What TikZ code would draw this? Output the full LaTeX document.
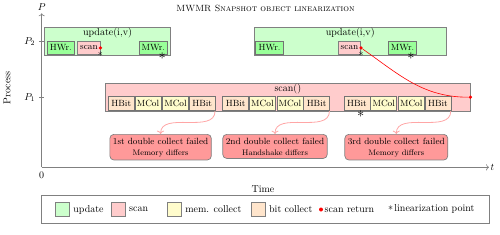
\documentclass[tikz,border=0pt]{standalone}
\usetikzlibrary{arrows.meta,positioning}

\begin{document}
\begin{tikzpicture}[
  x=1pt, y=-1pt, >=To,
  axis/.style={draw=gray, line width=0.6pt},
  outer/.style={draw=gray, line width=0.7pt, minimum height=27.7pt, inner sep=0pt},
  updbox/.style={outer, fill=green!20},
  scanbig/.style={outer, fill=red!20},
  ttl/.style={anchor=north, inner sep=1pt},
  inbox/.style={draw=black!55, line width=0.7pt, inner sep=0pt, font=\small},
  wrbox/.style={inbox, fill=green!40, minimum height=12.3pt},
  scansm/.style={inbox, draw=gray, fill=red!20, minimum height=12.3pt, minimum width=22.4pt},
  hbit/.style={inbox, fill=orange!20, minimum width=26pt, minimum height=14pt},
  mcol/.style={inbox, fill=yellow!20, minimum width=26pt, minimum height=14pt},
  fail/.style={draw=gray, line width=0.7pt, fill=red!40, rounded corners=4pt, align=center, font=\small, inner xsep=3pt},
  rdot/.style={circle, fill=red, inner sep=0pt, minimum size=3.6pt},
  lin/.style={inner sep=0pt, font=\Large},
  linsm/.style={inner sep=0pt},
  flow/.style={draw=red!35, line width=0.8pt, ->},
  legsq/.style={draw=gray, line width=0.7pt, minimum size=14pt, inner sep=0pt},
]
\useasboundingbox (0,0) rectangle (500,234);

% Title
\node[font=\small\scshape] (title) at (265.5,8) {MWMR Snapshot object linearization};

% Axes
\coordinate (o) at (41.7,167.3);
\coordinate (ytop) at (41.7,13.3);
\coordinate (xend) at (489,167.3);
\draw[axis,->] (o) -- (ytop);
\draw[axis,->] (o) -- (xend);
\node[above=-1pt of ytop] (plab) {$P$};
\node[right=-2pt of xend] (tlab) {$t$};
\node[below=1pt of o] (zero) {0};
\node (timelab) at (263,189) {Time};
\node[rotate=90] (proclab) at (7,88) {Process};
\foreach \n/\y in {1/97.7, 2/41.7}{
  \coordinate (tk\n) at (41.7,\y);
  \draw[axis] (tk\n) ++(-2.5,0) -- ++(5,0);
  \node[left=3pt of tk\n] (pl\n) {$P_\n$};
}

% Updates on P2
\node[updbox, minimum width=126.4pt] (upd1) at (107.5,41.2) {};
\node[ttl] (upd1t) at (upd1.north) {update(i,v)};
\node[wrbox, minimum width=27pt] (hw1) at (60.8,47.9) {HWr.};
\node[scansm] (sc1) at (88.9,47.9) {scan};
\node[wrbox, minimum width=28pt] (mw1) at (153.3,47.9) {MWr.};
\node[rdot] (sd1) at (sc1.east) {};
\node[linsm] (ls1) at (sc1.south east) {$\ast$};
\node[lin] (lm1) at (162.3,56.5) {$\ast$};

\node[updbox, minimum width=191.7pt] (upd2) at (350.2,41.2) {};
\node[ttl] (upd2t) at (upd2.north) {update(i,v)};
\node[wrbox, minimum width=27.6pt] (hw2) at (269.5,47.9) {HWr.};
\node[scansm] (sc2) at (349.5,47.9) {scan};
\node[wrbox, minimum width=28.4pt] (mw2) at (402.5,47.9) {MWr.};
\node[rdot] (sd2) at (sc2.east) {};
\node[linsm] (ls2) at (sc2.south east) {$\ast$};
\node[lin] (lm2) at (411,56.5) {$\ast$};

% Scan on P1
\node[scanbig, minimum width=364.3pt] (scanb) at (287.9,97.2) {};
\node[ttl] (scanbt) at (scanb.north) {scan()};
\node[rdot] (sr) at (scanb.east) {};

\foreach \g/\x/\txt/\why in {1/108.3/1st/Memory, 2/222.7/2nd/Handshake, 3/344/3rd/Memory}{
  \node[hbit] (ha\g) at (\x+13,103.7) {HBit};
  \node[mcol, right=0pt of ha\g] (ma\g) {MCol};
  \node[mcol, right=0.8pt of ma\g] (mb\g) {MCol};
  \node[hbit, right=0pt of mb\g] (hb\g) {HBit};
  \node[fail, anchor=north] (f\g) at (\x+52.3,134) {\txt\ double collect failed\\{\footnotesize \why\ differs}};
  \draw[flow] ([xshift=-0.5pt]hb\g.south east) to[out=-90,in=90] (f\g.north);
}
\node[lin] (ls3) at (360.7,114.5) {$\ast$};

% scan return
\draw[red, line width=0.6pt] (sr) to[out=180,in=-35] (sd2);

% Legend
\node[outer, minimum width=448pt] (leg) at (265.3,209.5) {};
\node[legsq, fill=green!20] (lq1) at (62.5,209.5) {};
\node[right=0pt of lq1] (lt1) {update};
\node[legsq, fill=red!20] (lq2) at (118.3,209.5) {};
\node[right=0pt of lq2] (lt2) {scan};
\node[legsq, fill=yellow!20] (lq3) at (174.5,209.5) {};
\node[right=0pt of lq3] (lt3) {mem. collect};
\node[legsq, fill=orange!20] (lq4) at (258.3,209.5) {};
\node[right=0pt of lq4] (lt4) {bit collect};
\node[rdot, minimum size=4pt] (lq5) at (321,209.5) {};
\node[right=-2pt of lq5] (lt5) {scan return};
\node[linsm] (lq6) at (390.7,208.5) {$\ast$};
\node[right=-2.5pt of lq6] (lt6) {linearization point};

\end{tikzpicture}
\end{document}
